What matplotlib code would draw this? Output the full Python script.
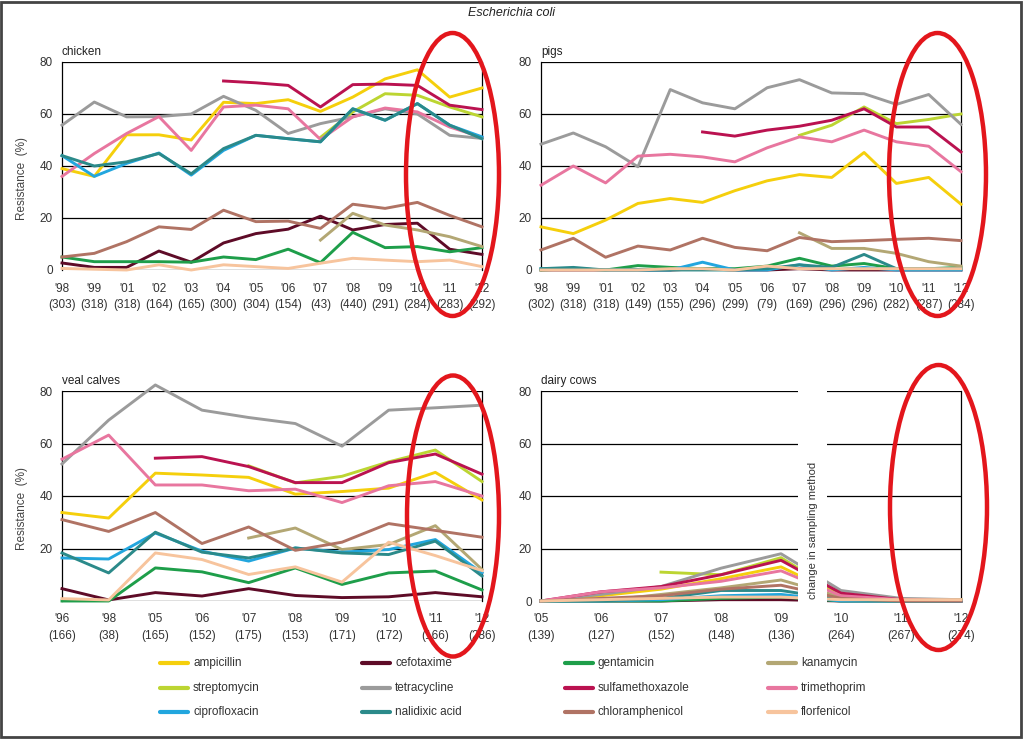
"""Escherichia coli resistance trends in four animal species (chicken, pigs, veal calves, dairy cows)."""

import matplotlib.pyplot as plt
import numpy as np
from matplotlib.patches import Ellipse, Rectangle
from matplotlib.lines import Line2D

nan = np.nan
plt.rcParams['font.family'] = ['Liberation Sans', 'DejaVu Sans']

# Antibiotics in legend order (row by row) and their colours
antibiotics = ['ampicillin', 'cefotaxime', 'gentamicin', 'kanamycin',
               'streptomycin', 'tetracycline', 'sulfamethoxazole', 'trimethoprim',
               'ciprofloxacin', 'nalidixic acid', 'chloramphenicol', 'florfenicol']
colours = ['#F5CF0C', '#5E0B27', '#1E9E4A', '#B3A774',
           '#BCD532', '#9B9B9B', '#BA1250', '#E8769F',
           '#22A6DE', '#2B8A8A', '#B07364', '#F7C49D']

# chicken
chicken_years = ["'98", "'99", "'01", "'02", "'03", "'04", "'05", "'06", "'07", "'08", "'09", "'10", "'11", "'12"]
chicken_n = [303, 318, 318, 164, 165, 300, 304, 154, 43, 440, 291, 284, 283, 292]
chicken = {
    'ampicillin':       [39, 36, 52, 52, 50, 64.5, 64, 65.5, 61, 66.5, 73.5, 77, 66.5, 70],
    'cefotaxime':       [2.7, 1, 1, 7.3, 3, 10.4, 14, 15.7, 20.7, 15.4, 17.5, 18, 8, 6],
    'gentamicin':       [5, 3.2, 3.2, 3.2, 3, 5, 4, 8, 2.8, 14.5, 8.6, 9, 7, 8.6],
    'kanamycin':        [nan, nan, nan, nan, nan, nan, nan, nan, 11.5, 21.8, 17.3, 15.4, 12.8, 9],
    'streptomycin':     [nan, nan, nan, nan, nan, nan, nan, nan, 51, 60.8, 67.8, 67.2, 62.7, 58.9],
    'tetracycline':     [55.7, 64.6, 58.9, 59, 60, 66.8, 61.4, 52.5, 56.3, 58.9, 62, 60, 51.8, 50.6],
    'sulfamethoxazole': [nan, nan, nan, nan, nan, 72.7, 72, 71, 62.7, 71.3, 71.5, 71, 63.4, 61.7],
    'trimethoprim':     [36, 44.8, 52.5, 59, 46, 62.7, 63.4, 62, 50.2, 58.9, 62.3, 60.8, 55, 51],
    'ciprofloxacin':    [44, 36, 41, 45, 36.5, 46, 51.8, 50.5, 49.3, 62, 57.6, 64, 55.7, 51.2],
    'nalidixic acid':   [44, 40, 41.6, 44.8, 37, 46.7, 51.8, 50.5, 49.3, 62, 57.6, 64, 55.7, 50.5],
    'chloramphenicol':  [5, 6.4, 10.9, 16.6, 15.6, 23, 18.6, 18.8, 16, 25.3, 23.7, 26, 21, 16.6],
    'florfenicol':      [0.6, 0.3, 0, 2, 0, 2, 1.3, 0.6, 2.6, 4.5, 3.8, 3.2, 3.8, 1.3],
}

# pigs
pigs_years = ["'98", "'99", "'01", "'02", "'03", "'04", "'05", "'06", "'07", "'08", "'09", "'10", "'11", "'12"]
pigs_n = [302, 318, 318, 149, 155, 296, 299, 79, 169, 296, 296, 282, 287, 284]
pigs = {
    'ampicillin':       [16.6, 14, 19.2, 25.6, 27.5, 26, 30.5, 34.3, 36.7, 35.6, 45.2, 33.3, 35.6, 25.3],
    'cefotaxime':       [0, 0, 0, 0, 0, 0.5, 0, 0, 0.5, 0, 0, 0, 0, 0],
    'gentamicin':       [0, 0.5, 0, 1.7, 1, 0.5, 0.5, 1.5, 4.5, 1.5, 2.5, 0.5, 0.5, 1],
    'kanamycin':        [nan, nan, nan, nan, nan, nan, nan, nan, 14.3, 8.3, 8.3, 6.4, 3.2, 1.5],
    'streptomycin':     [nan, nan, nan, nan, nan, nan, nan, nan, 51.8, 55.7, 62.7, 56.3, 57.9, 60],
    'tetracycline':     [48.4, 52.7, 47.4, 39.7, 69.4, 64.3, 62, 70.1, 73.2, 68.1, 67.8, 63.7, 67.5, 56],
    'sulfamethoxazole': [nan, nan, nan, nan, nan, 53.1, 51.5, 53.8, 55.3, 57.6, 62, 55, 55, 45.4],
    'trimethoprim':     [32.6, 40, 33.5, 43.8, 44.5, 43.5, 41.6, 47, 51.2, 49.3, 53.8, 49.3, 47.6, 37.8],
    'ciprofloxacin':    [0.5, 0.5, 0, 0, 0, 3, 0, 0, 2, 0, 1, 0, 0, 0],
    'nalidixic acid':   [0.5, 1, 0, 0, 0, 0, 0, 0.5, 2, 1, 6, 0.5, 0.5, 0.5],
    'chloramphenicol':  [7.7, 12.2, 4.9, 9.2, 7.7, 12.2, 8.7, 7.4, 12.5, 10.9, 11.3, 11.8, 12.2, 11.3],
    'florfenicol':      [0, 0, 0, 0, 0.5, 0.5, 0, 1.5, 0.5, 0.5, 0.5, 0.5, 0.5, 0.5],
}

# veal calves
veal_years = ["'96", "'98", "'05", "'06", "'07", "'08", "'09", "'10", "'11", "'12"]
veal_n = [166, 38, 165, 152, 175, 153, 171, 172, 166, 286]
veal = {
    'ampicillin':       [33.7, 31.6, 48.7, 48, 47.1, 40.7, 41.7, 43, 49, 38.5],
    'cefotaxime':       [4.7, 0.4, 3.2, 1.9, 4.7, 2.1, 1.3, 1.6, 3.2, 1.6],
    'gentamicin':       [0, 0, 12.6, 11.1, 7, 12.6, 6.3, 10.7, 11.4, 4.2],
    'kanamycin':        [nan, nan, nan, nan, 24, 27.8, 19.6, 21.5, 28.7, 12],
    'streptomycin':     [nan, nan, nan, nan, 51.5, 45, 47.5, 53, 57.5, 45.5],
    'tetracycline':     [52.2, 68.9, 82.3, 72.7, 69.9, 67.6, 59, 72.7, 73.6, 74.6],
    'sulfamethoxazole': [nan, nan, 54.4, 55, 51.2, 45.1, 45.1, 52.7, 56, 48.3],
    'trimethoprim':     [54, 63.2, 44.2, 44.2, 42, 42.6, 37.5, 43.9, 45.5, 40],
    'ciprofloxacin':    [16.4, 16, 25.9, 19, 15.2, 20.2, 18.6, 19.6, 23.4, 10.7],
    'nalidixic acid':   [18.3, 10.7, 26.2, 18.6, 16.4, 20.2, 18.3, 17.7, 22.8, 9.5],
    'chloramphenicol':  [31, 26.5, 33.7, 21.9, 28.2, 19.3, 22.4, 29.5, 26.9, 24.3],
    'florfenicol':      [0.9, 0.4, 18.3, 15.8, 10.1, 13, 7.2, 22.4, 17.3, 11.6],
}

# dairy cows (sampling method changed between '09 and '10)
dairy_years = ["'05", "'06", "'07", "'08", "'09", "'10", "'11", "'12"]
dairy_n = [139, 127, 152, 148, 136, 264, 267, 274]
dairy = {
    'ampicillin':       [0, 2, 4.5, 8.5, 13, 2, 0.5, 0.5],
    'cefotaxime':       [0, 0, 0, 0.5, 0.5, 0, 0, 0],
    'gentamicin':       [0, 0, 0, 1, 1.5, 0, 0, 0],
    'kanamycin':        [0, 0, 2.5, 5, 8, 1.5, 0.5, 0.5],
    'streptomycin':     [nan, nan, 11, 10, 16.5, 2.5, 0.5, 0.5],
    'tetracycline':     [0, 2.5, 5.5, 12.5, 18, 4, 1, 0.5],
    'sulfamethoxazole': [0, 3.5, 5.5, 10, 15.5, 3, 0.5, 0],
    'trimethoprim':     [0, 3.5, 5, 7.5, 11.5, 2, 0.5, 0],
    'ciprofloxacin':    [0, 0, 0.5, 2, 2.5, 0, 0, 0],
    'nalidixic acid':   [0, 0, 1, 4, 4, 0.5, 0, 0],
    'chloramphenicol':  [0, 1, 2, 4.5, 6, 1, 0, 0],
    'florfenicol':      [0, 0.5, 1, 1.5, 1.5, 0.5, 0.5, 0.5],
}

W, H = 1024, 742
fig = plt.figure(figsize=(W / 100, H / 100), dpi=100)


def px_axes(left, top, right, bottom):
    # pixel box -> figure fraction axes
    return fig.add_axes([left / W, 1 - bottom / H, (right - left) / W, (bottom - top) / H])


def draw_panel(ax, years, counts, values, name, ylabel=False, zero_label=True):
    x = np.arange(len(years))
    for level in [0, 20, 40, 60, 80]:
        ax.axhline(level, color='black', lw=0.9, zorder=1)
    for ab, col in zip(antibiotics, colours):
        ax.plot(x, values[ab], color=col, lw=2.1, clip_on=False, zorder=3)
    ax.set_xlim(0, len(years) - 1)
    ax.set_ylim(0, 80)
    ax.set_yticks([0, 20, 40, 60, 80])
    ax.set_yticklabels(['0' if zero_label else '', '20', '40', '60', '80'])
    ax.set_xticks(x)
    ax.set_xticklabels(['{}\n({})'.format(y, c) for y, c in zip(years, counts)])
    for lbl in ax.get_xticklabels():
        lbl.set_linespacing(1.55)
    ax.tick_params(length=0, labelsize=8.5, labelcolor='#333333')
    ax.tick_params(axis='x', pad=9)
    ax.tick_params(axis='y', pad=6.5)
    for side in ['top', 'bottom']:
        ax.spines[side].set_visible(False)
    for side in ['left', 'right']:
        ax.spines[side].set_color('black')
        ax.spines[side].set_linewidth(0.9)
    ax.text(0, 1.02, name, transform=ax.transAxes, fontsize=8.5,
            color='#222222', va='bottom', ha='left')
    if ylabel:
        ax.set_ylabel('Resistance  (%)', fontsize=8.5, color='#444444')
        ax.yaxis.set_label_coords(-0.081, 0.44)
    ax.set_facecolor('none')


ax_chicken = px_axes(62, 62, 482, 270)
ax_pigs = px_axes(541, 62, 961, 270)
ax_veal = px_axes(62, 391, 482, 601)
ax_dairy = px_axes(541, 391, 961, 601)

draw_panel(ax_chicken, chicken_years, chicken_n, chicken, 'chicken', ylabel=True)
draw_panel(ax_pigs, pigs_years, pigs_n, pigs, 'pigs')
draw_panel(ax_veal, veal_years, veal_n, veal, 'veal calves', ylabel=True, zero_label=False)
draw_panel(ax_dairy, dairy_years, dairy_n, dairy, 'dairy cows')

# gap in the dairy panel where the sampling method changed
ax_dairy.add_patch(Rectangle((4.28, -3), 0.49, 86, facecolor='white', edgecolor='none',
                             zorder=5, clip_on=False))
ax_dairy.text(4.525, 27, 'change in sampling method', rotation=90, ha='center', va='center',
              fontsize=8, color='#333333', zorder=6)

fig.text(0.5, 1 - 13 / H, 'Escherichia coli', style='italic', ha='center', va='center',
         fontsize=9, color='#222222')

# legend, 3 rows x 4 columns
col_x = [160, 362, 565, 768]
row_y = [663, 688, 712]
for i, (ab, col) in enumerate(zip(antibiotics, colours)):
    r, c = divmod(i, 4)
    x0, y0 = col_x[c], row_y[r]
    fig.add_artist(Line2D([x0 / W, (x0 + 28) / W], [1 - y0 / H, 1 - y0 / H],
                          color=col, lw=3, solid_capstyle='round'))
    fig.text((x0 + 33) / W, 1 - y0 / H, ab, fontsize=8.5, color='#333333',
             ha='left', va='center')

# red highlight ellipses over the last years
for cx, cy, w, h in [(452.5, 174.5, 93, 283), (937.5, 174.5, 97, 283),
                     (453, 516, 92, 281), (938.5, 507.5, 97, 285)]:
    fig.add_artist(Ellipse((cx / W, 1 - cy / H), w / W, h / H, fill=False,
                           edgecolor='#E3161C', lw=3.2, zorder=10))

# outer frame of the picture
fig.add_artist(Rectangle((1 / W, 1 - 737 / H), 1020 / W, 735 / H, fill=False,
                         edgecolor='#444444', lw=2, zorder=11))

fig.savefig('out.png', dpi=100, facecolor='white')
